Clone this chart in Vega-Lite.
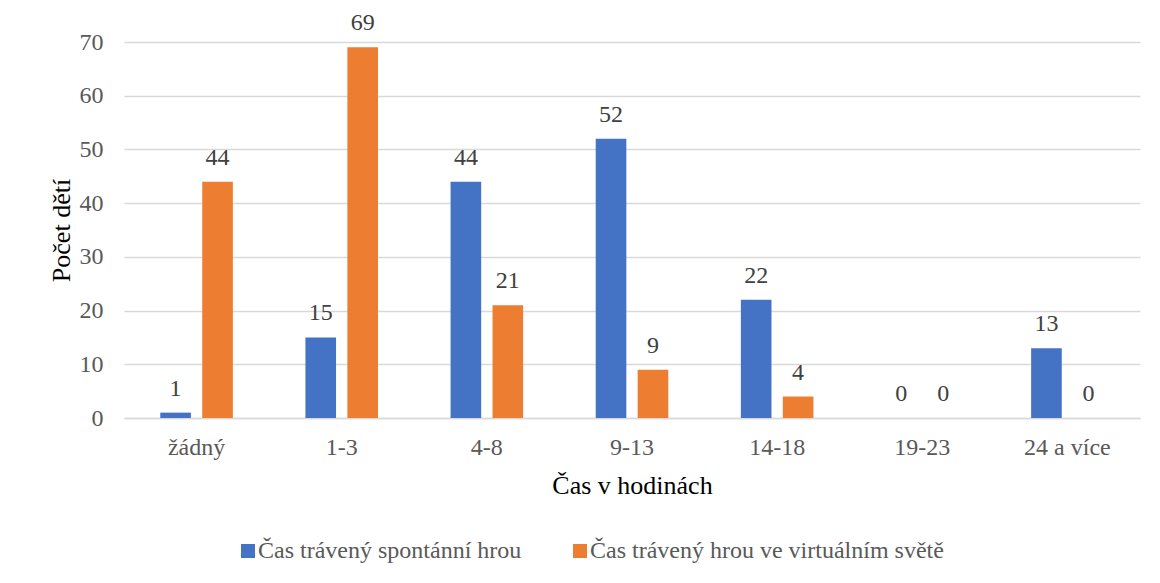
{
  "$schema": "https://vega.github.io/schema/vega-lite/v6.json",
  "autosize": "none",
  "width": 1016,
  "height": 376,
  "padding": {"left": 124, "top": 42, "right": 20, "bottom": 165},
  "background": "white",
  "config": {
    "font": "Liberation Serif",
    "view": {"stroke": null}
  },
  "data": {
    "values": [
      {"cas": "žádný", "serie": "Čas trávený spontánní hrou", "pocet": 1},
      {"cas": "žádný", "serie": "Čas trávený hrou ve virtuálním světě", "pocet": 44},
      {"cas": "1-3", "serie": "Čas trávený spontánní hrou", "pocet": 15},
      {"cas": "1-3", "serie": "Čas trávený hrou ve virtuálním světě", "pocet": 69},
      {"cas": "4-8", "serie": "Čas trávený spontánní hrou", "pocet": 44},
      {"cas": "4-8", "serie": "Čas trávený hrou ve virtuálním světě", "pocet": 21},
      {"cas": "9-13", "serie": "Čas trávený spontánní hrou", "pocet": 52},
      {"cas": "9-13", "serie": "Čas trávený hrou ve virtuálním světě", "pocet": 9},
      {"cas": "14-18", "serie": "Čas trávený spontánní hrou", "pocet": 22},
      {"cas": "14-18", "serie": "Čas trávený hrou ve virtuálním světě", "pocet": 4},
      {"cas": "19-23", "serie": "Čas trávený spontánní hrou", "pocet": 0},
      {"cas": "19-23", "serie": "Čas trávený hrou ve virtuálním světě", "pocet": 0},
      {"cas": "24 a více", "serie": "Čas trávený spontánní hrou", "pocet": 13},
      {"cas": "24 a více", "serie": "Čas trávený hrou ve virtuálním světě", "pocet": 0}
    ]
  },
  "encoding": {
    "x": {
      "field": "cas", "type": "nominal", "sort": null,
      "scale": {"paddingInner": 0.5, "paddingOuter": 0.25},
      "axis": {
        "title": "Čas v hodinách", "labelAngle": 0, "ticks": false,
        "labelFont": "Liberation Serif",
        "titleFont": "Liberation Serif",
        "labelFontSize": 24, "labelColor": "#595959", "labelPadding": 17,
        "titleFontSize": 26, "titleColor": "#000000", "titleFontWeight": "normal", "titlePadding": 13,
        "domainColor": "#d9d9d9", "domainWidth": 1.5, "grid": false
      }
    },
    "xOffset": {"field": "serie", "type": "nominal", "sort": ["Čas trávený spontánní hrou", "Čas trávený hrou ve virtuálním světě"], "scale": {"paddingInner": 0.27}},
    "y": {
      "field": "pocet", "type": "quantitative",
      "scale": {"domain": [0, 70], "nice": false},
      "axis": {
        "title": "Počet dětí", "values": [0, 10, 20, 30, 40, 50, 60, 70],
        "ticks": false, "domain": false,
        "labelFont": "Liberation Serif",
        "titleFont": "Liberation Serif",
        "labelFontSize": 24, "labelColor": "#595959", "labelPadding": 21,
        "titleFontSize": 26, "titleColor": "#000000", "titleFontWeight": "normal", "titlePadding": 5,
        "gridColor": "#d9d9d9", "gridWidth": 1.5
      }
    }
  },
  "layer": [
    {
      "mark": {"type": "bar"},
      "encoding": {
        "color": {
          "field": "serie", "type": "nominal",
          "sort": ["Čas trávený spontánní hrou", "Čas trávený hrou ve virtuálním světě"],
          "scale": {"range": ["#4472c4", "#ed7d31"]},
          "legend": {
            "title": null, "orient": "none", "direction": "horizontal",
            "legendX": 112, "legendY": 497,
            "symbolType": "square", "symbolSize": 196, "symbolStrokeWidth": 0,
            "labelFont": "Liberation Serif",
            "labelFontSize": 24, "labelColor": "#595959",
            "columnPadding": 46, "labelOffset": -2, "labelLimit": 500
          }
        }
      }
    },
    {
      "mark": {"type": "text", "baseline": "alphabetic", "dy": -17, "fontSize": 24, "color": "#404040", "font": "Liberation Serif"},
      "encoding": {"text": {"field": "pocet", "type": "quantitative"}}
    }
  ]
}
